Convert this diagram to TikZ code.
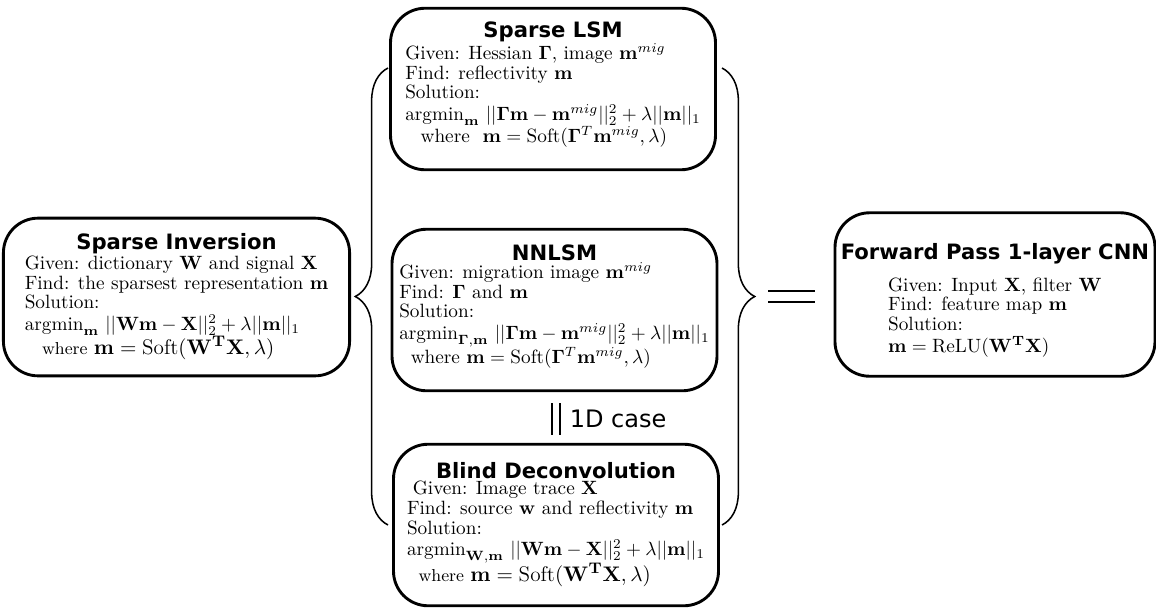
\documentclass[tikz,border=0pt]{standalone}
\usepackage{amsmath}
\usepackage[no-math]{fontspec}
\usepackage{tikz}
\usetikzlibrary{decorations.pathreplacing}
\newfontfamily\headfont{DejaVu Sans}
\newcommand\boxtitle[1]{{\headfont\bfseries\fontsize{11}{13}\selectfont #1}}
\newcommand\wh{{\small where}}
\renewcommand\arraystretch{0.85}

\begin{document}
\begin{tikzpicture}[x=0.52pt,y=-0.52pt,
  box/.style={draw, line width=1.5pt, rounded corners=18pt, minimum width=169pt,
    minimum height=84pt, inner sep=0pt, align=center, font=\fontsize{10}{12}\selectfont},
  brace/.style={decorate, decoration={brace, amplitude=17pt}, line width=0.8pt},
  bar/.style={line width=1.5pt}]
  \useasboundingbox (0,0) rectangle (1156,610);

  \node[box, minimum width=180pt, minimum height=82pt] (inv) at (176.5,297) {\boxtitle{Sparse Inversion}\\
    \begin{tabular}{@{}l@{}}
      Given: dictionary $\mathbf{W}$ and signal $\mathbf{X}$\\
      Find: the sparsest representation $\mathbf{m}$\\
      Solution:\\
      $\text{argmin}_{\mathbf{m}}\ ||\mathbf{W}\mathbf{m}-\mathbf{X}||_2^2+\lambda||\mathbf{m}||_1$\\
      \hspace*{0.9em}\wh\ {\fontsize{11}{12}\selectfont$\mathbf{m}=\text{Soft}(\mathbf{W}^{\mathbf{T}}\mathbf{X},\lambda)$}
    \end{tabular}};

  \node[box] (lsm) at (553,89) {\boxtitle{Sparse LSM}\\
    \begin{tabular}{@{}l@{}}
      Given: Hessian $\mathbf{\Gamma}$, image $\mathbf{m}^{mig}$\\
      Find: reflectivity $\mathbf{m}$\\
      Solution:\\
      $\text{argmin}_{\mathbf{m}}\ ||\mathbf{\Gamma}\mathbf{m}-\mathbf{m}^{mig}||_2^2+\lambda||\mathbf{m}||_1$\\
      \hspace*{0.8em}where\ \ $\mathbf{m}=\text{Soft}(\mathbf{\Gamma}^T\mathbf{m}^{mig},\lambda)$\\[4pt]
    \end{tabular}};

  \node[box] (nnlsm) at (554.5,310) {\boxtitle{NNLSM}\\
    \begin{tabular}{@{}l@{}}
      Given: migration image $\mathbf{m}^{mig}$\\
      Find: $\mathbf{\Gamma}$ and $\mathbf{m}$\\
      Solution:\\
      $\text{argmin}_{\mathbf{\Gamma},\mathbf{m}}\ ||\mathbf{\Gamma}\mathbf{m}-\mathbf{m}^{mig}||_2^2+\lambda||\mathbf{m}||_1$\\
      \hspace*{0.6em}where $\mathbf{m}=\text{Soft}(\mathbf{\Gamma}^T\mathbf{m}^{mig},\lambda)$\\[3pt]
    \end{tabular}};

  \node[box] (blind) at (556,525) {\boxtitle{Blind Deconvolution}\\
    \begin{tabular}{@{}l@{}}
      \hspace*{0.3em}Given: Image trace $\mathbf{X}$\\
      Find: source $\mathbf{w}$ and reflectivity $\mathbf{m}$\\
      Solution:\\
      $\text{argmin}_{\mathbf{W},\mathbf{m}}\ ||\mathbf{W}\mathbf{m}-\mathbf{X}||_2^2+\lambda||\mathbf{m}||_1$\\
      \hspace*{0.6em}\wh\ {\fontsize{11}{12}\selectfont$\mathbf{m}=\text{Soft}(\mathbf{W}^{\mathbf{T}}\mathbf{X},\lambda)$}
    \end{tabular}};

  \node[box, minimum width=166.4pt, minimum height=85pt] (cnn) at (995,294.5) {\rule{0pt}{15pt}\boxtitle{Forward Pass 1-layer CNN}\\[6pt]
    \begin{tabular}{@{}l@{}}
      Given: Input $\mathbf{X}$, filter $\mathbf{W}$\\
      Find: feature map $\mathbf{m}$\\
      Solution:\\
      $\mathbf{m}=\text{ReLU}(\mathbf{W}^{\mathbf{T}}\mathbf{X})$
    \end{tabular}};

  \coordinate (lb1) at (388,525);
  \coordinate (lb2) at (388,68);
  \coordinate (rb1) at (722,68);
  \coordinate (rb2) at (722,525);
  \draw[brace] (lb1) -- (lb2);
  \draw[brace] (rb1) -- (rb2);

  \coordinate (eq1) at (768,291);
  \coordinate (eq2) at (815,291);
  \coordinate (eq3) at (768,302);
  \coordinate (eq4) at (815,302);
  \draw[bar] (eq1) -- (eq2);
  \draw[bar] (eq3) -- (eq4);

  \coordinate (v1) at (552,403);
  \coordinate (v2) at (552,435);
  \coordinate (v3) at (560,403);
  \coordinate (v4) at (560,435);
  \draw[line width=1.1pt] (v1) -- (v2);
  \draw[line width=1.1pt] (v3) -- (v4);
  \node[font=\headfont\fontsize{12.5}{14}\selectfont, anchor=west] (case) at (563,419) {1D case};
\end{tikzpicture}
\end{document}
